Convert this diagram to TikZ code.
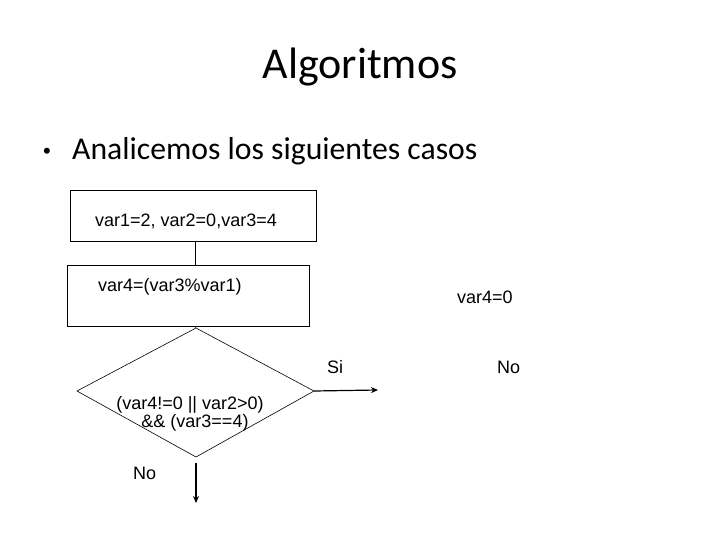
\documentclass[tikz,border=0pt]{standalone}
\usepackage{fontspec}
\setmainfont{Carlito}
\newfontfamily\arialf{Liberation Sans}
\usetikzlibrary{arrows.meta}
\begin{document}
\begin{tikzpicture}[x=1pt,y=-1pt,
  box/.style={draw,line width=0.6pt},
  lbl/.style={font=\arialf\fontsize{18}{20}\selectfont,inner sep=0pt,anchor=base west},
  arr/.style={line width=1.2pt,-{Stealth[length=7pt,width=6pt]}},
  ln/.style={line width=0.6pt}]
\useasboundingbox (0,0) rectangle (720,540);
\node[inner sep=0pt,anchor=base,font=\fontsize{44}{48}\selectfont] (title) at (360,79) {Algoritmos};
\node[inner sep=0pt,anchor=base west,font=\arialf\fontsize{22}{24}\selectfont] (dot) at (43,159) {•};
\node[inner sep=0pt,anchor=base west,font=\fontsize{31.7}{34}\selectfont] (bul) at (72,160) {Analicemos los siguientes casos};
% box 1
\draw[box] (70,190) rectangle (316,241);
\coordinate (b1) at (195,241);
\node[lbl] (t1) at (95,226) {var1=2, var2=0,var3=4};
% box 2
\draw[box] (67,265) rectangle (309,326);
\coordinate (b2t) at (195,265);
\coordinate (b2b) at (195,326);
\node[lbl] (t2) at (98,291) {var4=(var3\%var1)};
\draw[ln] (b1) -- (b2t);
% diamond
\coordinate (dt) at (196,328);
\coordinate (dl) at (77,391);
\coordinate (dr) at (314,391);
\coordinate (db) at (196,457);
\draw[ln] (dt) -- (dr) -- (db) -- (dl) -- cycle;
\draw[ln] (b2b) -- (dt);
\node[lbl,anchor=base] (t3) at (190,409) {(var4!=0 || var2>0)};
\node[lbl,anchor=base] (t4) at (195,427) {\&\& (var3==4)};
% arrows
\coordinate (siend) at (378,390);
\draw[arr] (dr) -- (siend);
\coordinate (notop) at (196,463);
\coordinate (noend) at (196,503);
\draw[arr] (notop) -- (noend);
\node[lbl] (si) at (327,373) {Si};
\node[lbl] (no1) at (497,373) {No};
\node[lbl] (v0) at (457,303) {var4=0};
\node[lbl] (no2) at (133,479) {No};
\end{tikzpicture}
\end{document}
